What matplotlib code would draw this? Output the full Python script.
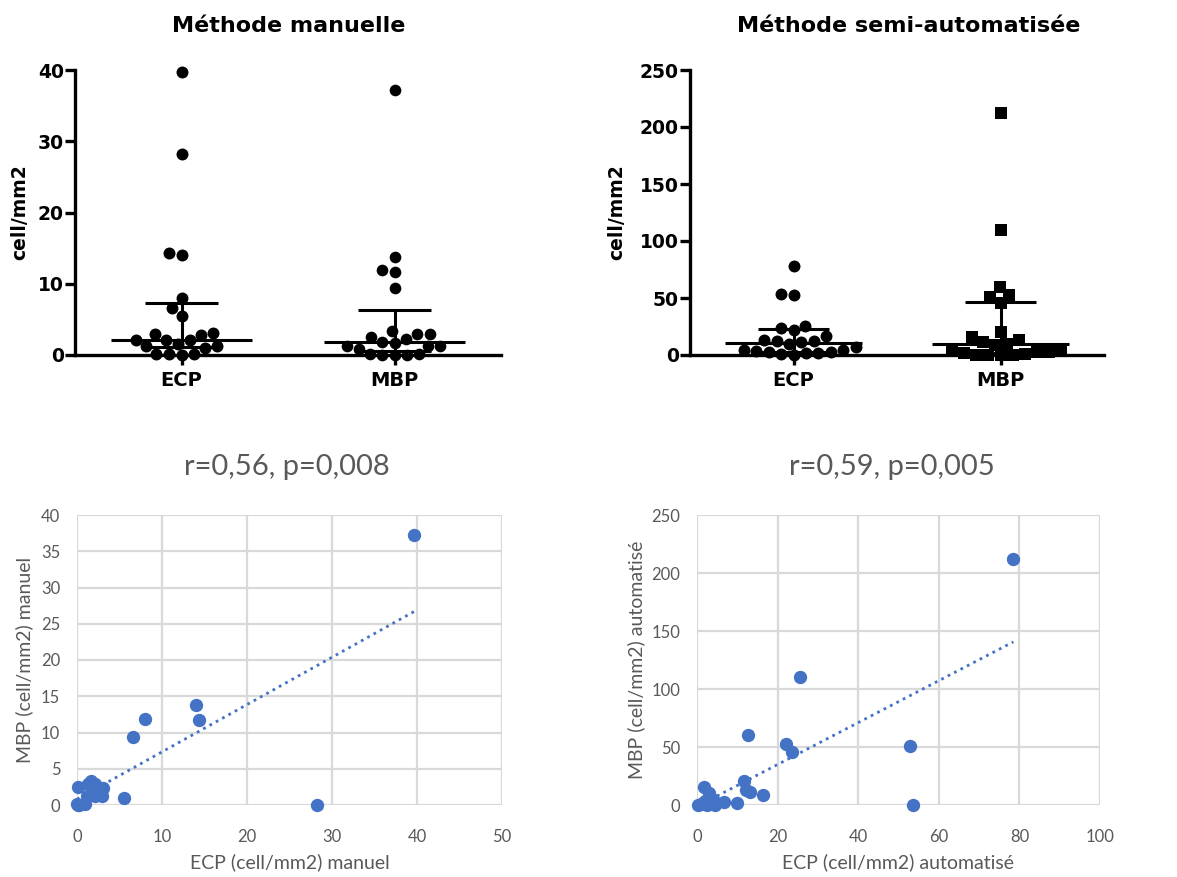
import numpy as np
import pandas as pd
import matplotlib
matplotlib.use("Agg")
import matplotlib.pyplot as plt
import seaborn as sns
import warnings
warnings.filterwarnings("ignore")

# ---------------- data ----------------
categories = ["ECP", "MBP"]

ecp_manuel = [39.7, 28.2, 14.0, 14.3, 8.0, 6.6, 5.5, 3.1, 0.1, 1.6, 0.1, 0.2, 1.0, 0.0,
              2.9, 2.8, 2.1, 2.1, 2.1, 1.3, 1.2]
mbp_manuel = [37.2, 0.0, 13.8, 11.7, 11.9, 9.4, 0.9, 2.3, 2.5, 3.3, 0.0, 0.0, 0.1, 0.1,
              1.2, 1.8, 2.9, 1.2, 1.7, 2.9, 1.2]

ecp_auto = [78.5, 25.5, 12.6, 52.8, 53.5, 22.0, 23.5, 11.7, 13.2, 16.5, 10.0, 6.6, 1.8,
            0.2, 2.5, 2.9, 4.5, 4.5, 3.7, 12.2, 1.0, 2.0]
mbp_auto = [212.0, 110.0, 60.0, 51.0, 0.0, 53.0, 45.5, 20.5, 11.0, 9.0, 1.7, 2.5, 15.5,
            0.0, 0.0, 10.0, 0.0, 2.3, 5.0, 13.0, 0.5, 3.5]

top_titles = ["Méthode manuelle", "Méthode semi-automatisée"]
top_ylabel = "cell/mm2"
top_yticks_manuel = [0, 10, 20, 30, 40]
top_yticks_auto = [0, 50, 100, 150, 200, 250]

corr_titles = ["r=0,56, p=0,008", "r=0,59, p=0,005"]
xlabels_corr = ["ECP (cell/mm2) manuel", "ECP (cell/mm2) automatisé"]
ylabels_corr = ["MBP (cell/mm2) manuel", "MBP (cell/mm2) automatisé"]
xticks_manuel = [0, 10, 20, 30, 40, 50]
yticks_manuel = [0, 5, 10, 15, 20, 25, 30, 35, 40]
xticks_auto = [0, 20, 40, 60, 80, 100]
yticks_auto = [0, 50, 100, 150, 200, 250]

# ---------------- figure ----------------
W, H = 1177, 877
fig = plt.figure(figsize=(W / 100, H / 100), dpi=100)
fig.patch.set_facecolor("white")


def ax_px(l, r, b, t):
    return fig.add_axes([l / W, 1 - b / H, (r - l) / W, (b - t) / H])


ax_tl = ax_px(75, 501, 355, 70)
ax_tr = ax_px(690, 1104, 355, 70)
ax_bl = ax_px(77, 502, 805, 515)
ax_br = ax_px(697, 1100, 805, 515)

BOLD = dict(fontweight="bold", family="DejaVu Sans")


def swarm_panel(ax, ecp, mbp, yticks, mbp_marker, ylab_x):
    df_e = pd.DataFrame({"cat": "ECP", "val": ecp})
    df_m = pd.DataFrame({"cat": "MBP", "val": mbp})
    sns.swarmplot(data=df_e, x="cat", y="val", order=categories, color="black",
                  size=8.6, marker="o", linewidth=0, ax=ax, zorder=3)
    sns.swarmplot(data=df_m, x="cat", y="val", order=categories, color="black",
                  size=8.4, marker=mbp_marker, linewidth=0, ax=ax, zorder=3)
    for c in ax.collections:
        c.set_clip_on(False)
    for i, vals in enumerate([ecp, mbp]):
        q1, med, q3 = np.percentile(vals, [25, 50, 75], method="weibull")
        ax.hlines(med, i - 0.33, i + 0.33, color="black", lw=2.2, zorder=4, clip_on=False)
        ax.hlines([q1, q3], i - 0.17, i + 0.17, color="black", lw=2.2, zorder=4, clip_on=False)
        ax.vlines(i, q1, q3, color="black", lw=2.2, zorder=4, clip_on=False)
    ax.set_xlim(-0.5, 1.5)
    ax.set_ylim(yticks[0], yticks[-1])
    ax.set_yticks(yticks)
    ax.set_yticklabels([str(t) for t in yticks], fontsize=13.5, **BOLD)
    ax.set_xticks([0, 1])
    ax.set_xticklabels(categories, fontsize=14, **BOLD)
    ax.set_xlabel("")
    ax.set_ylabel(top_ylabel, fontsize=13.5, **BOLD)
    ax.yaxis.set_label_coords(ylab_x, 0.5)
    for s in ["top", "right"]:
        ax.spines[s].set_visible(False)
    for s in ["left", "bottom"]:
        ax.spines[s].set_linewidth(2.4)
        ax.spines[s].set_color("black")
    ax.tick_params(axis="y", direction="out", length=7, width=2.4, pad=1, colors="black")
    ax.tick_params(axis="x", direction="out", length=7.5, width=2.4, pad=4, colors="black")
    ax.set_facecolor("white")


swarm_panel(ax_tl, ecp_manuel, mbp_manuel, top_yticks_manuel, "o", -0.108)
swarm_panel(ax_tr, ecp_auto, mbp_auto, top_yticks_auto, "s", -0.155)

fig.text(288.5 / W, 1 - 26 / H, top_titles[0], ha="center", va="center", fontsize=16, **BOLD)
fig.text(909 / W, 1 - 26 / H, top_titles[1], ha="center", va="center", fontsize=16, **BOLD)

# ---------------- correlation panels ----------------
GRAY = "#595959"
GRID = "#d9d9d9"
BLUE = "#4472C4"
LATO = "Lato"


def corr_panel(ax, x, y, xticks, yticks, xlabel, ylabel, ylab_x):
    ax.set_xlim(xticks[0], xticks[-1])
    ax.set_ylim(yticks[0], yticks[-1])
    ax.set_xticks(xticks)
    ax.set_yticks(yticks)
    ax.set_xticklabels([str(t) for t in xticks], fontsize=12, color=GRAY, family=LATO)
    ax.set_yticklabels([str(t) for t in yticks], fontsize=12, color=GRAY, family=LATO)
    ax.grid(True, color=GRID, lw=1.6, zorder=0)
    ax.set_axisbelow(True)
    for s in ax.spines.values():
        s.set_visible(False)
    ax.tick_params(length=0)
    ax.tick_params(axis="x", pad=17)
    ax.tick_params(axis="y", pad=12)
    xa = np.asarray(x)
    ya = np.asarray(y)
    ax.scatter(xa, ya, s=9.6 ** 2, color=BLUE, zorder=3, clip_on=False, linewidths=0)
    slope, intercept = np.polyfit(xa, ya, 1)
    xs = np.array([xa.min(), xa.max()])
    ax.plot(xs, slope * xs + intercept, color=BLUE, lw=2.0, ls=(0, (1, 1.6)), zorder=2)
    ax.set_xlabel(xlabel, fontsize=14, color=GRAY, family=LATO)
    ax.set_ylabel(ylabel, fontsize=14, color=GRAY, family=LATO)
    ax.xaxis.set_label_coords(0.5, -0.165)
    ax.yaxis.set_label_coords(ylab_x, 0.5)


corr_panel(ax_bl, ecp_manuel, mbp_manuel, xticks_manuel, yticks_manuel,
           xlabels_corr[0], ylabels_corr[0], -0.104)
corr_panel(ax_br, ecp_auto, mbp_auto, xticks_auto, yticks_auto,
           xlabels_corr[1], ylabels_corr[1], -0.129)

fig.text(287 / W, 1 - 467 / H, corr_titles[0], ha="center", va="center",
         fontsize=21, color=GRAY, family=LATO)
fig.text(892 / W, 1 - 467 / H, corr_titles[1], ha="center", va="center",
         fontsize=21, color=GRAY, family=LATO)

fig.savefig("out.png", dpi=100, facecolor="white")
